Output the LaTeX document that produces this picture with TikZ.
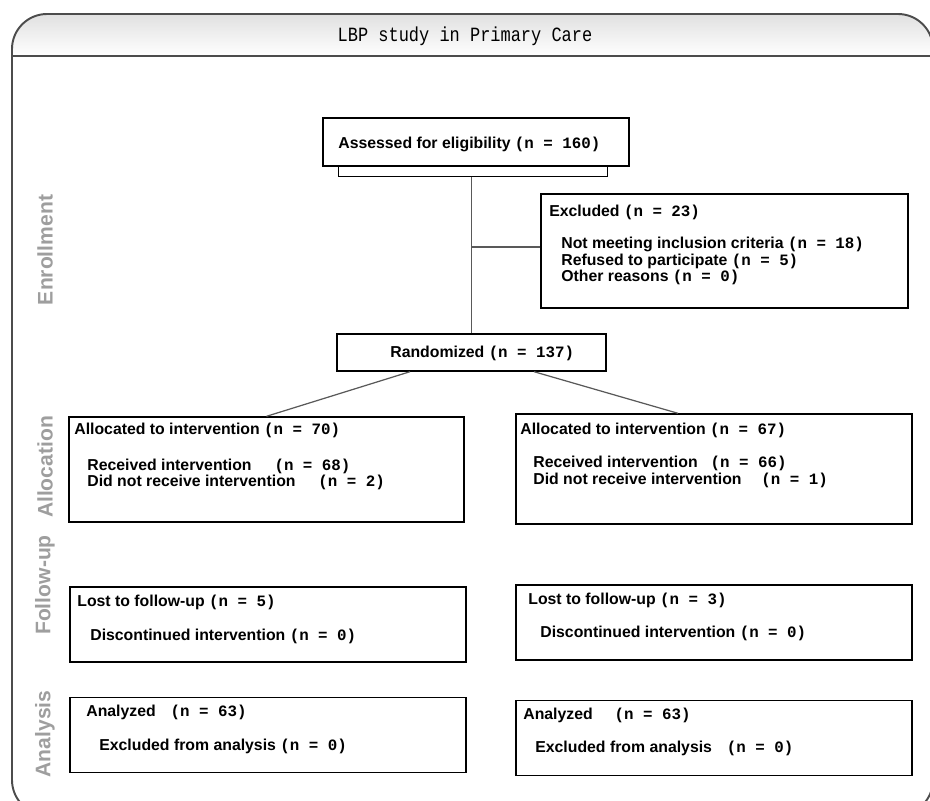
\documentclass[tikz,border=0pt]{standalone}
\usepackage{fontspec}
\setmainfont{Liberation Sans}
\setmonofont{Liberation Mono}
\usetikzlibrary{calc}
\newcommand{\nn}[1]{{\ttfamily(n = #1)}}

\begin{document}
\begin{tikzpicture}[
  x=0.02cm, y=-0.02cm,
  box/.style={draw,line width=0.8pt,inner sep=0pt},
  txt/.style={anchor=west,align=left,inner sep=0pt,font=\bfseries\fontsize{9}{9.5}\selectfont},
  stage/.style={rotate=90,text=black!38,font=\bfseries\fontsize{12}{12}\selectfont},
  link/.style={draw=black!65,line width=0.7pt}
]
  \useasboundingbox (0,0) rectangle (930,801);
  \clip (0,0) rectangle (930,801);

  % frame with title band
  \begin{scope}
    \clip[rounded corners=0.7cm] (12,14) rectangle (933,815);
    \shade[top color=black!12,bottom color=white] (12,14) rectangle (933,56);
  \end{scope}
  \draw[black!70,line width=1.1pt,rounded corners=0.7cm] (12,14) rectangle (933,815);
  \draw[black!70,line width=1.1pt] (12,56) -- (933,56);
  \node[font=\ttfamily\fontsize{11.5}{12}\selectfont,xscale=0.84] (title) at (465,36) {LBP study in Primary Care};

  % stages
  \node[stage] (enrol) at (45,250) {Enrollment};
  \node[stage] (alloc) at (45,467) {Allocation};
  \node[stage] (follow) at (45,585) {Follow-up};
  \node[stage] (analysis) at (45,734) {Analysis};

  % boxes
  \node[box,minimum width=6.12cm,minimum height=0.96cm] (assess) at (476,142) {};
  \node[box,minimum width=7.34cm,minimum height=2.28cm] (excl) at (724.5,251) {};
  \node[box,minimum width=5.38cm,minimum height=0.74cm] (random) at (471.5,352.5) {};
  \node[box,minimum width=7.9cm,minimum height=2.1cm] (allocL) at (266.5,469.5) {};
  \node[box,minimum width=7.92cm,minimum height=2.2cm] (allocR) at (714,469) {};
  \node[box,minimum width=7.92cm,minimum height=1.5cm] (followL) at (268,624.5) {};
  \node[box,minimum width=7.92cm,minimum height=1.5cm] (followR) at (714,622.5) {};
  \node[box,minimum width=7.92cm,minimum height=1.5cm] (anaL) at (268,735) {};
  \node[box,minimum width=7.92cm,minimum height=1.5cm] (anaR) at (714,738) {};

  % texts
  \node[txt] (assesst) at (338,144) {Assessed for eligibility \nn{160}};
  \node[txt] (exclh) at (549,212) {Excluded \nn{23}};
  \node[txt] (exclb) at (561,261) {Not meeting inclusion criteria \nn{18}\\
    Refused to participate \nn{5}\\ Other reasons \nn{0}};
  \node[txt] (randomt) at (390,353) {Randomized \nn{137}};
  \node[txt] (allocLh) at (74,430) {Allocated to intervention \nn{70}};
  \node[txt] (allocLb) at (87,474.5) {Received intervention\hspace{13pt}\nn{68}\\
    Did not receive intervention\hspace{13pt}\nn{2}};
  \node[txt] (allocRh) at (520,430) {Allocated to intervention \nn{67}};
  \node[txt] (allocRb) at (533,472) {Received intervention\hspace{7.4pt}\nn{66}\\
    Did not receive intervention\hspace{11.3pt}\nn{1}};
  \node[txt] (followLh) at (77,602) {Lost to follow-up \nn{5}};
  \node[txt] (followLb) at (90,636) {Discontinued intervention \nn{0}};
  \node[txt] (followRh) at (528,600) {Lost to follow-up \nn{3}};
  \node[txt] (followRb) at (540,633) {Discontinued intervention \nn{0}};
  \node[txt] (anaLh) at (86,712) {Analyzed\hspace{8.5pt}\nn{63}};
  \node[txt] (anaLb) at (99,746) {Excluded from analysis \nn{0}};
  \node[txt] (anaRh) at (523,715) {Analyzed\hspace{12.5pt}\nn{63}};
  \node[txt] (anaRb) at (535,748) {Excluded from analysis\hspace{8.5pt}\nn{0}};

  % connectors
  \draw[box] ($(assess.south west)+(16,0)$) |- ($(assess.south east)+(-22,10)$)
    -- ($(assess.south east)+(-22,0)$);
  \coordinate (tab) at ($(assess.south)+(0,10)$);
  \coordinate (exclin) at ([yshift=0.08cm]excl.west);
  \draw[link] (tab -| random.north) -- (random.north);
  \draw[link] (exclin) -- (exclin -| random.north);
  \draw[link] ($(random.south)+(-61.5,0)$) -- (allocL.north);
  \draw[link] ($(random.south)+(62.5,0)$) -- ($(allocR.north)+(-36,0)$);
\end{tikzpicture}
\end{document}
